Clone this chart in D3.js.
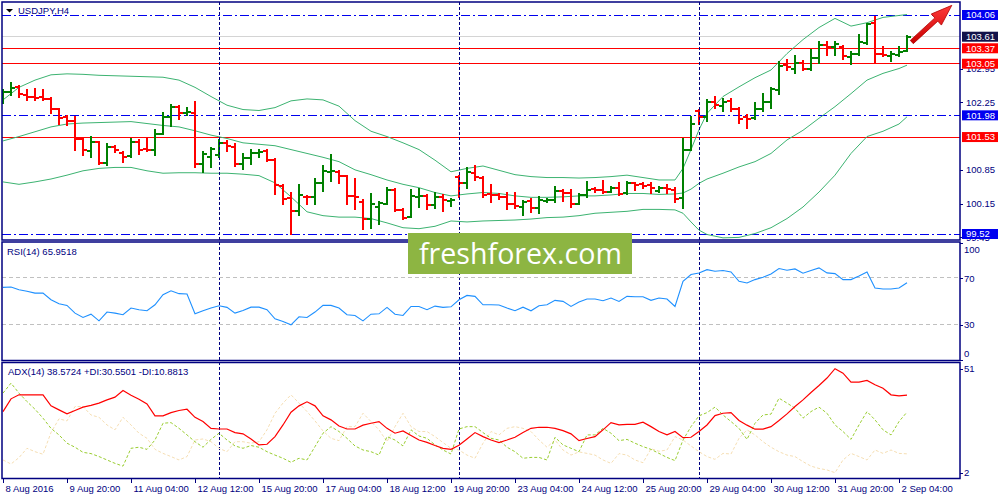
<!DOCTYPE html>
<html>
<head>
<meta charset="utf-8">
<script src="https://cdn.jsdelivr.net/npm/d3@7"></script>
<style>
    html, body { margin: 0; padding: 0; background: #fff; }
    svg { display: block; font-family: "Liberation Sans", Arial, sans-serif; }
</style>
</head>
<body>
<div id="chart"></div>
<script>
// values (H4 bars, 8 Aug 12:00 .. 2 Sep 08:00)
const symbol = "USDJPY,H4";
const timeLabels = ["8 Aug 2016", "9 Aug 20:00", "11 Aug 04:00", "12 Aug 12:00", "15 Aug 20:00",
    "17 Aug 04:00", "18 Aug 12:00", "19 Aug 20:00", "23 Aug 04:00", "24 Aug 12:00",
    "25 Aug 20:00", "29 Aug 04:00", "30 Aug 12:00", "31 Aug 20:00", "2 Sep 04:00"];
const timeLabelBars = [0, 8, 16, 24, 32, 40, 48, 56, 64, 72, 80, 88, 96, 104, 112];
const weekStartBars = [27, 57, 87];

const opens = [102.37, 102.47, 102.56, 102.41, 102.37, 102.35, 102.32, 102.11, 101.94, 101.87,
    101.48, 101.25, 101.42, 101.00, 101.33, 101.20, 101.14, 101.43, 101.29, 101.26,
    101.60, 101.95, 102.16, 102.02, 102.03, 100.98, 101.12, 101.16, 101.41, 101.33,
    100.97, 101.09, 101.20, 101.25, 101.05, 100.52, 100.26, 100.00, 100.29, 100.28,
    100.57, 100.81, 100.81, 100.72, 100.30, 100.19, 99.84, 100.08, 100.15, 100.44,
    100.01, 99.87, 100.29, 100.30, 100.12, 100.29, 100.20, 100.71, 100.58, 100.78,
    100.69, 100.34, 100.33, 100.29, 100.14, 100.08, 100.20, 100.05, 100.20, 100.22,
    100.41, 100.37, 100.15, 100.33, 100.46, 100.44, 100.39, 100.48, 100.36, 100.57,
    100.55, 100.53, 100.42, 100.48, 100.44, 100.26, 101.27, 102.08, 101.95, 102.26,
    102.17, 102.28, 102.12, 101.94, 101.92, 102.12, 102.26, 102.50, 103.02, 102.95,
    103.07, 102.95, 103.16, 103.44, 103.40, 103.40, 103.18, 103.26, 103.47, 103.89,
    103.26, 103.21, 103.23, 103.32];
const highs = [102.50, 102.64, 102.59, 102.50, 102.52, 102.50, 102.33, 102.12, 101.96, 101.95,
    101.48, 101.54, 101.43, 101.38, 101.35, 101.22, 101.48, 101.47, 101.50, 101.67,
    102.03, 102.19, 102.17, 102.14, 102.26, 101.22, 101.31, 101.47, 101.45, 101.39,
    101.18, 101.27, 101.26, 101.27, 101.07, 100.53, 100.36, 100.53, 100.30, 100.67,
    100.93, 101.16, 100.83, 100.73, 100.66, 100.22, 100.35, 100.19, 100.48, 100.46,
    100.03, 100.43, 100.45, 100.33, 100.36, 100.33, 100.24, 100.73, 100.88, 100.93,
    100.71, 100.53, 100.35, 100.37, 100.36, 100.20, 100.24, 100.28, 100.24, 100.50,
    100.43, 100.44, 100.34, 100.59, 100.48, 100.61, 100.50, 100.57, 100.60, 100.58,
    100.58, 100.58, 100.50, 100.53, 100.48, 101.48, 101.94, 102.10, 102.30, 102.37,
    102.31, 102.31, 102.14, 101.99, 102.23, 102.42, 102.54, 103.09, 103.13, 103.21,
    103.11, 103.33, 103.51, 103.49, 103.49, 103.42, 103.30, 103.65, 103.87, 104.02,
    103.40, 103.30, 103.40, 103.63];
const lows = [102.24, 102.41, 102.35, 102.30, 102.30, 102.30, 102.02, 101.81, 101.77, 101.26,
    101.16, 101.11, 100.97, 100.96, 101.22, 101.02, 101.12, 101.18, 101.25, 101.16,
    101.59, 101.76, 101.90, 101.99, 100.90, 100.81, 100.91, 101.12, 101.25, 100.93,
    100.86, 100.98, 101.12, 101.04, 100.34, 100.14, 99.52, 99.91, 100.15, 100.15,
    100.42, 100.62, 100.58, 100.15, 100.03, 99.63, 99.65, 99.72, 100.14, 100.00,
    99.84, 99.87, 100.08, 100.03, 100.05, 100.00, 100.10, 100.29, 100.48, 100.64,
    100.29, 100.19, 100.25, 100.03, 100.05, 99.92, 99.98, 99.96, 100.19, 100.19,
    100.20, 100.08, 100.14, 100.29, 100.39, 100.37, 100.39, 100.33, 100.35, 100.44,
    100.48, 100.36, 100.39, 100.37, 100.19, 100.05, 101.26, 101.80, 101.87, 102.14,
    102.08, 102.08, 101.83, 101.72, 101.90, 102.08, 102.14, 102.42, 102.92, 102.85,
    102.91, 102.93, 103.06, 103.23, 103.23, 103.14, 103.04, 103.23, 103.46, 103.09,
    103.20, 103.11, 103.21, 103.32];
const closes = [102.47, 102.54, 102.43, 102.35, 102.34, 102.32, 102.11, 101.93, 101.87, 101.48,
    101.27, 101.43, 101.00, 101.33, 101.26, 101.12, 101.43, 101.27, 101.27, 101.60,
    101.95, 102.16, 102.03, 102.04, 100.98, 101.18, 101.29, 101.40, 101.34, 100.97,
    101.09, 101.20, 101.22, 101.05, 100.53, 100.25, 100.00, 100.33, 100.28, 100.57,
    100.83, 100.83, 100.73, 100.30, 100.28, 99.84, 100.15, 100.17, 100.44, 100.01,
    99.86, 100.30, 100.30, 100.12, 100.29, 100.22, 100.22, 100.58, 100.80, 100.71,
    100.33, 100.33, 100.29, 100.14, 100.10, 100.19, 100.05, 100.22, 100.22, 100.41,
    100.37, 100.15, 100.33, 100.44, 100.44, 100.39, 100.48, 100.35, 100.57, 100.53,
    100.51, 100.48, 100.48, 100.45, 100.24, 101.27, 101.81, 101.94, 102.26, 102.19,
    102.26, 102.12, 101.90, 101.90, 102.12, 102.26, 102.52, 103.01, 102.99, 103.06,
    102.95, 103.16, 103.44, 103.40, 103.45, 103.20, 103.26, 103.49, 103.87, 103.26,
    103.24, 103.25, 103.30, 103.61];

// Bollinger bands, sampled at these bars
const bbBars = [0, 2, 4, 6, 8, 10, 12, 14, 16, 18, 20, 22, 24, 26, 28, 30, 32, 34, 36, 38,
    40, 42, 44, 46, 48, 50, 52, 54, 56, 58, 60, 62, 64, 66, 68, 70, 72, 74, 76, 78,
    80, 82, 84, 85, 86, 87, 88, 90, 92, 94, 96, 98, 100, 102, 104, 106, 108, 110, 112, 113];
const bbUpper = [102.30, 102.56, 102.71, 102.82, 102.84, 102.83, 102.81, 102.80, 102.79, 102.78,
    102.77, 102.71, 102.56, 102.37, 102.19, 102.10, 102.08, 102.14, 102.28, 102.32,
    102.30, 102.17, 101.87, 101.65, 101.54, 101.41, 101.27, 101.05, 100.81, 100.88,
    100.93, 100.84, 100.75, 100.71, 100.69, 100.69, 100.68, 100.69, 100.71, 100.74,
    100.69, 100.64, 100.64, 100.88, 101.27, 101.68,
    102.02, 102.37, 102.57, 102.76, 102.92, 103.26, 103.55, 103.80, 103.99, 103.83, 103.90, 104.01, 104.05,
    104.07];
const bbMiddle = [101.45, 101.54, 101.64, 101.74, 101.80, 101.82, 101.83, 101.84, 101.85, 101.81,
    101.77, 101.74, 101.66, 101.57, 101.50, 101.41, 101.38, 101.35, 101.27, 101.19,
    101.11, 101.02, 100.85, 100.75, 100.64, 100.55, 100.48, 100.38, 100.31, 100.35,
    100.38, 100.36, 100.31, 100.28, 100.28, 100.29, 100.31, 100.31, 100.33, 100.36,
    100.36, 100.34, 100.35, 100.37, 100.45, 100.57,
    100.66, 100.78, 100.91, 101.02, 101.19, 101.47, 101.67, 101.92, 102.16, 102.43, 102.71, 102.85, 102.95,
    103.02];
const bbLower = [100.60, 100.55, 100.60, 100.66, 100.74, 100.83, 100.88, 100.90, 100.90, 100.83,
    100.78, 100.79, 100.79, 100.78, 100.78, 100.76, 100.73, 100.58, 100.29, 99.98,
    99.90, 99.87, 99.87, 99.84, 99.75, 99.65, 99.63, 99.68, 99.79, 99.77,
    99.79, 99.80, 99.81, 99.83, 99.86, 99.87, 99.90, 99.95, 99.97, 99.99,
    100.03, 100.03, 100.02, 99.95, 99.77, 99.60,
    99.51, 99.44, 99.45, 99.53, 99.65, 99.84, 100.08, 100.39, 100.74, 101.19, 101.54, 101.65, 101.80,
    101.95];

const rsi = [62.0, 62.3, 60.0, 58.6, 57.1, 57.1, 51.4, 48.0, 46.6, 40.0,
    36.3, 39.1, 33.4, 40.9, 40.0, 38.6, 44.3, 42.9, 42.0, 47.1,
    55.7, 59.1, 56.6, 56.3, 39.4, 42.0, 44.3, 46.3, 44.9, 40.0,
    42.3, 45.1, 45.1, 42.9, 35.1, 32.9, 30.0, 36.9, 36.3, 40.9,
    46.6, 46.6, 44.3, 38.6, 38.0, 33.4, 39.1, 39.4, 44.9, 39.1,
    38.0, 45.7, 45.7, 42.9, 46.0, 44.9, 45.4, 51.4, 55.1, 54.3,
    47.1, 47.1, 46.9, 44.3, 42.0, 45.1, 42.0, 46.3, 47.1, 50.9,
    50.0, 45.7, 49.4, 52.0, 52.0, 50.6, 52.9, 50.0, 54.3, 54.0,
    54.0, 50.9, 52.9, 52.0, 45.7, 67.1, 72.9, 74.3, 77.1, 75.7,
    76.3, 75.1, 67.1, 65.7, 68.6, 70.6, 73.4, 78.0, 76.6, 77.7,
    74.0, 76.3, 78.6, 74.3, 73.7, 68.6, 68.6, 71.7, 75.1, 61.4,
    60.6, 60.6, 61.4, 65.9518];
const adx = [30.8, 36.8, 38.7, 38.7, 38.7, 38.7, 33.5, 31.6, 29.7, 31.3,
    32.9, 33.7, 34.8, 36.3, 37.6, 40.7, 38.5, 36.6, 34.4, 28.8,
    28.8, 30.3, 31.3, 31.9, 28.1, 26.1, 22.9, 22.6, 22.6, 20.9,
    20.3, 17.9, 15.1, 15.4, 19.0, 24.5, 30.5, 33.5, 35.4, 33.5,
    28.8, 26.9, 24.0, 22.6, 22.6, 24.4, 25.3, 26.1, 22.9, 20.6,
    21.7, 19.5, 17.4, 16.3, 14.8, 13.5, 13.0, 14.9, 17.9, 20.9,
    19.0, 17.4, 16.2, 17.4, 18.7, 20.9, 22.9, 23.4, 23.4, 22.9,
    21.8, 20.3, 17.1, 18.1, 19.0, 22.2, 25.6, 24.5, 24.8, 24.8,
    25.8, 23.7, 21.4, 19.8, 21.4, 18.5, 18.7, 21.4, 24.5, 28.9,
    30.0, 30.3, 26.6, 24.4, 22.5, 22.5, 23.7, 26.6, 29.7, 33.2,
    36.3, 39.8, 43.1, 46.6, 51.0, 48.9, 44.7, 44.7, 45.5, 43.4,
    41.8, 38.7, 38.2, 38.5724];
const plusDi = [39.5, 44.2, 39.5, 35.5, 31.9, 27.7, 22.9, 19.8, 15.9, 14.0,
    11.6, 11.0, 9.6, 8.0, 6.4, 5.1, 13.5, 14.0, 13.0, 17.4,
    25.3, 25.6, 22.9, 19.8, 16.6, 14.0, 17.7, 20.6, 17.4, 14.6,
    13.5, 14.8, 14.0, 11.9, 10.3, 8.8, 6.9, 8.8, 8.0, 14.3,
    20.6, 23.7, 21.4, 18.2, 14.6, 12.7, 11.9, 10.3, 19.0, 17.4,
    14.6, 22.2, 19.3, 18.2, 15.1, 12.7, 10.8, 22.6, 23.7, 23.7,
    20.9, 18.2, 17.4, 14.0, 11.9, 8.8, 9.2, 9.2, 8.0, 18.7,
    15.1, 13.5, 11.9, 19.8, 19.8, 22.9, 20.6, 17.1, 17.7, 15.9,
    14.3, 13.0, 11.1, 9.2, 7.7, 17.4, 23.7, 28.8, 30.3, 32.9,
    29.2, 26.1, 22.9, 17.7, 25.3, 29.2, 29.6, 37.1, 34.8, 32.4,
    27.7, 30.8, 32.9, 30.0, 24.5, 21.4, 17.7, 24.5, 30.8, 26.9,
    22.2, 19.8, 26.1, 30.5501];
const minusDi = [8.0, 6.1, 9.1, 13.5, 11.9, 10.7, 20.9, 27.4, 26.4, 33.2,
    33.2, 29.2, 28.1, 24.5, 22.2, 28.1, 24.5, 20.6, 18.2, 13.0,
    11.1, 9.6, 8.0, 9.6, 17.4, 17.9, 16.6, 13.5, 11.9, 16.6,
    16.6, 15.9, 16.6, 22.2, 30.0, 34.8, 38.7, 34.8, 30.8, 26.4,
    21.7, 18.2, 17.1, 23.7, 23.7, 30.0, 26.1, 22.2, 16.6, 23.7,
    30.0, 23.7, 21.4, 21.4, 19.0, 16.2, 13.5, 12.7, 10.3, 8.8,
    15.9, 21.4, 19.8, 22.9, 23.7, 22.9, 21.4, 17.4, 14.0, 17.4,
    12.7, 10.3, 11.8, 11.1, 10.3, 8.0, 6.4, 11.0, 10.3, 8.0,
    6.7, 13.3, 12.1, 12.7, 19.0, 17.4, 14.6, 11.9, 9.6, 8.3,
    11.1, 10.8, 18.2, 22.2, 19.8, 16.6, 14.0, 11.9, 10.3, 9.6,
    7.2, 5.1, 4.0, 3.3, 2.0, 8.0, 11.1, 9.6, 8.0, 12.7,
    11.1, 12.7, 11.1, 10.8813];

// 101.55 and 103.65 sit fully under the level tags, so they are not drawn
const priceTicks = [99.45, 100.15, 100.85, 102.25, 102.95];
const blueLevels = [104.06, 101.98, 99.52];
const redLevels = [103.37, 103.05, 101.53];
const lastPrice = 103.61;
const rsiTicks = [0, 30, 70, 100];
const rsiLevels = [30, 70];
const adxTicks = [2, 51];
const watermark = "freshforex.com";
// trend arrow anchored like a chart object: bar index / price
const arrowFrom = { bar: 113.6, price: 103.50 };
const arrowTo = { bar: 118.6, price: 104.26 };

// layout
const width = 1000, height = 500;
const plotLeft = 2, plotRight = 960;
const mainTop = 2, mainBottom = 240;
const rsiTop = 242, rsiBottom = 360.5;
const adxTop = 362.5, adxBottom = 478.5;
const navy = "#000080";
const fontSize = "9.5px";

const svg = d3.select("#chart").append("svg")
    .attr("width", width)
    .attr("height", height);

svg.append("rect").attr("width", width).attr("height", height).attr("fill", "#fff");

const defs = svg.append("defs");
function addClip(id, x0, y0, x1, y1) {
    defs.append("clipPath").attr("id", id).append("rect")
        .attr("x", x0).attr("y", y0)
        .attr("width", x1 - x0).attr("height", y1 - y0);
}
addClip("clip-main", plotLeft, mainTop, plotRight, mainBottom);
addClip("clip-rsi", plotLeft, rsiTop, plotRight, rsiBottom);
addClip("clip-adx", plotLeft, adxTop, plotRight, adxBottom);
addClip("clip-price-axis", plotRight, 0, width, mainBottom + 1.5);

const x = d3.scaleLinear()
    .domain([0, closes.length - 1])
    .range([3, 3 + 8 * (closes.length - 1)]);
const yPrice = d3.scaleLinear().domain([99.52, 104.06]).range([234, 15]);
const yRsi = d3.scaleLinear().domain([0, 100]).range([360, 242.8]);
const yAdx = d3.scaleLinear().domain([2, 51]).range([472.7, 368.7]);

// ---- main window ----
const gMain = svg.append("g").attr("clip-path", "url(#clip-main)");

gMain.append("line")
    .attr("x1", plotLeft).attr("x2", plotRight)
    .attr("y1", yPrice(lastPrice)).attr("y2", yPrice(lastPrice))
    .attr("stroke", "#d4d4d4")
    .attr("shape-rendering", "crispEdges");

gMain.append("g").selectAll("line")
    .data(redLevels)
    .join("line")
    .attr("x1", plotLeft).attr("x2", plotRight)
    .attr("y1", d => yPrice(d)).attr("y2", d => yPrice(d))
    .attr("stroke", "#ff0000")
    .attr("shape-rendering", "crispEdges");

gMain.append("g").selectAll("line")
    .data(blueLevels)
    .join("line")
    .attr("x1", plotLeft).attr("x2", plotRight)
    .attr("y1", d => yPrice(d)).attr("y2", d => yPrice(d))
    .attr("stroke", "#0000ee")
    .attr("stroke-width", 1)
    .attr("stroke-dasharray", "9,3,2,3")
    .attr("shape-rendering", "crispEdges");

// week separators run through all windows
svg.append("g").selectAll("line")
    .data(weekStartBars)
    .join("line")
    .attr("x1", d => x(d)).attr("x2", d => x(d))
    .attr("y1", mainTop).attr("y2", adxBottom)
    .attr("stroke", navy)
    .attr("stroke-dasharray", "3,2")
    .attr("shape-rendering", "crispEdges");

const bbLine = band => d3.line()
    .x((d, i) => x(bbBars[i]))
    .y(d => yPrice(d))(band);

gMain.append("g").selectAll("path")
    .data([bbUpper, bbMiddle, bbLower])
    .join("path")
    .attr("d", d => bbLine(d))
    .attr("fill", "none")
    .attr("stroke", "#3cb371")
    .attr("stroke-width", 1);

const bars = gMain.append("g")
    .attr("shape-rendering", "crispEdges")
    .attr("stroke-width", 2)
    .selectAll("g")
    .data(d3.range(closes.length))
    .join("g")
    .attr("stroke", i => closes[i] >= opens[i] ? "#008000" : "#ff0000");

bars.append("line")
    .attr("x1", i => x(i)).attr("x2", i => x(i))
    .attr("y1", i => yPrice(highs[i]) - 1).attr("y2", i => yPrice(lows[i]) + 1);
bars.append("line")
    .attr("x1", i => x(i) - 4).attr("x2", i => x(i))
    .attr("y1", i => yPrice(opens[i])).attr("y2", i => yPrice(opens[i]));
bars.append("line")
    .attr("x1", i => x(i)).attr("x2", i => x(i) + 4)
    .attr("y1", i => yPrice(closes[i])).attr("y2", i => yPrice(closes[i]));

// ---- RSI window ----
const gRsi = svg.append("g").attr("clip-path", "url(#clip-rsi)");

gRsi.selectAll("line.level")
    .data(rsiLevels)
    .join("line")
    .attr("class", "level")
    .attr("x1", plotLeft).attr("x2", plotRight)
    .attr("y1", d => yRsi(d)).attr("y2", d => yRsi(d))
    .attr("stroke", "#c0c0c0")
    .attr("stroke-dasharray", "4,3")
    .attr("shape-rendering", "crispEdges");

gRsi.append("path")
    .datum(rsi)
    .attr("d", d3.line().x((d, i) => x(i)).y(d => yRsi(d)))
    .attr("fill", "none")
    .attr("stroke", "#1e90ff")
    .attr("stroke-width", 1.1);

// ---- ADX window ----
const gAdx = svg.append("g").attr("clip-path", "url(#clip-adx)");
const adxLine = d3.line().x((d, i) => x(i)).y(d => yAdx(d));

gAdx.append("path")
    .datum(minusDi)
    .attr("d", adxLine)
    .attr("fill", "none")
    .attr("stroke", "#f5deb3")
    .attr("stroke-dasharray", "3,2");

gAdx.append("path")
    .datum(plusDi)
    .attr("d", adxLine)
    .attr("fill", "none")
    .attr("stroke", "#9acd32")
    .attr("stroke-dasharray", "3,2");

gAdx.append("path")
    .datum(adx)
    .attr("d", adxLine)
    .attr("fill", "none")
    .attr("stroke", "#ff0000")
    .attr("stroke-width", 1.2);

// ---- frames ----
[[mainTop, mainBottom], [rsiTop, rsiBottom], [adxTop, adxBottom]].forEach(([t, b]) => {
    svg.append("rect")
        .attr("x", plotLeft).attr("y", t)
        .attr("width", plotRight - plotLeft).attr("height", b - t)
        .attr("fill", "none")
        .attr("stroke", navy)
        .attr("stroke-width", 1.5);
});

function styleAxis(g) {
    g.attr("font-family", null).attr("font-size", null);
    g.select(".domain").remove();
    g.selectAll("line").attr("stroke", navy).attr("shape-rendering", "crispEdges");
    g.selectAll("text").attr("fill", navy).style("font-size", fontSize);
}

// price scale on the right
svg.append("g")
    .attr("clip-path", "url(#clip-price-axis)")
    .append("g")
    .attr("transform", `translate(${plotRight},0)`)
    .call(d3.axisRight(yPrice).tickValues(priceTicks).tickSize(3).tickPadding(3)
        .tickFormat(d3.format(".2f")))
    .call(styleAxis);

const priceTags = [
    ...blueLevels.map(v => ({ v, fill: "#0000f0" })),
    ...redLevels.map(v => ({ v, fill: "#ff0000" })),
    { v: lastPrice, fill: "#12124a" }
];
const tags = svg.append("g")
    .attr("clip-path", "url(#clip-price-axis)")
    .selectAll("g")
    .data(priceTags)
    .join("g")
    .attr("transform", d => `translate(${plotRight + 2},${yPrice(d.v)})`);
tags.append("rect")
    .attr("x", 0).attr("y", -5)
    .attr("width", 36).attr("height", 10)
    .attr("fill", d => d.fill);
tags.append("text")
    .attr("x", 4).attr("dy", "0.34em")
    .attr("fill", "#fff")
    .style("font-size", fontSize)
    .text(d => d3.format(".2f")(d.v));

// RSI scale: top and bottom labels are pushed inside the window
svg.append("g")
    .attr("transform", `translate(${plotRight},0)`)
    .call(d3.axisRight(yRsi).tickValues(rsiTicks).tickSize(3).tickPadding(1).tickFormat(d3.format("d")))
    .call(styleAxis)
    .selectAll(".tick text")
    .attr("y", d => d === 100 ? 6.7 : d === 0 ? -6.7 : 0);

svg.append("g")
    .attr("transform", `translate(${plotRight},0)`)
    .call(d3.axisRight(yAdx).tickValues(adxTicks).tickSize(3).tickPadding(1).tickFormat(d3.format("d")))
    .call(styleAxis);

// time scale
svg.append("g")
    .attr("transform", `translate(0,${adxBottom})`)
    .call(d3.axisBottom(x).tickValues(timeLabelBars).tickSize(4)
        .tickFormat((d, i) => timeLabels[i]))
    .call(styleAxis)
    .selectAll(".tick text")
    .attr("text-anchor", "start")
    .attr("x", 2)
    .attr("y", 13)
    .attr("dy", null);

// window captions
svg.append("path")
    .attr("d", d3.line()([[6, 9], [13, 9], [9.5, 12.5]]) + "Z")
    .attr("fill", "#000");
svg.append("text")
    .attr("x", 18).attr("y", 14)
    .attr("fill", navy)
    .style("font-size", fontSize)
    .text(symbol);
svg.append("text")
    .attr("x", 7).attr("y", 255)
    .attr("fill", navy)
    .style("font-size", fontSize)
    .text(`RSI(14) ${d3.format(".4f")(rsi[rsi.length - 1])}`);
svg.append("text")
    .attr("x", 8).attr("y", 375)
    .attr("fill", navy)
    .style("font-size", fontSize)
    .text(`ADX(14) ${d3.format(".4f")(adx[adx.length - 1])} +DI:${d3.format(".4f")(plusDi[plusDi.length - 1])} -DI:${d3.format(".4f")(minusDi[minusDi.length - 1])}`);

// watermark
const wm = svg.append("g").attr("transform", "translate(408,233)");
wm.append("rect").attr("width", 224).attr("height", 41).attr("fill", "#8db542");
wm.append("text")
    .attr("x", 11).attr("y", 31)
    .attr("fill", "#fff")
    .attr("textLength", 203)
    .attr("lengthAdjust", "spacingAndGlyphs")
    .style("font-family", "'Open Sans', 'Noto Sans', sans-serif")
    .style("font-size", "29px")
    .text(watermark);

// red trend arrow
const grad = defs.append("linearGradient").attr("id", "arrow-fill")
    .attr("x1", 0).attr("y1", 0).attr("x2", 0).attr("y2", 1);
grad.append("stop").attr("offset", "0%").attr("stop-color", "#ff3a3a");
grad.append("stop").attr("offset", "100%").attr("stop-color", "#c80000");

const ax0 = x(arrowFrom.bar), ay0 = yPrice(arrowFrom.price);
const ax1 = x(arrowTo.bar), ay1 = yPrice(arrowTo.price);
const len = Math.hypot(ax1 - ax0, ay1 - ay0);
const ux = (ax1 - ax0) / len, uy = (ay1 - ay0) / len;
const nx = -uy, ny = ux;
const headLen = 21, headHalf = 7.5, shaftHalf = 2.2;
const bx = ax1 - ux * headLen, by = ay1 - uy * headLen;
const arrowPts = [
    [ax0 + nx * shaftHalf, ay0 + ny * shaftHalf],
    [bx + nx * shaftHalf, by + ny * shaftHalf],
    [bx + nx * headHalf, by + ny * headHalf],
    [ax1, ay1],
    [bx - nx * headHalf, by - ny * headHalf],
    [bx - nx * shaftHalf, by - ny * shaftHalf],
    [ax0 - nx * shaftHalf, ay0 - ny * shaftHalf]
];
svg.append("path")
    .attr("d", d3.line()(arrowPts) + "Z")
    .attr("fill", "url(#arrow-fill)")
    .attr("stroke", "#b00000")
    .attr("stroke-width", 0.8)
    .attr("stroke-linejoin", "round");
</script>
</body>
</html>
